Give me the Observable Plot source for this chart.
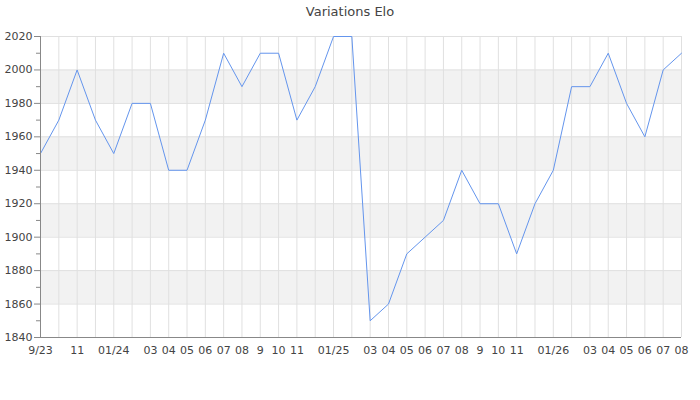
<!DOCTYPE html>
<html><head><meta charset="utf-8">
<script src="https://cdn.jsdelivr.net/npm/d3@7"></script>
<script src="https://cdn.jsdelivr.net/npm/@observablehq/plot@0.6"></script>
<style>
body{margin:0;background:#fff;font-family:"DejaVu Sans",sans-serif;}
#title{width:700px;height:24px;line-height:24px;text-align:center;font-size:13px;color:#444;}
</style></head><body>
<div id="title">Variations Elo</div>
<div id="chart"></div>
<script>
const months = ["2023-09","2023-10","2023-11","2023-12",
  "2024-01","2024-02","2024-03","2024-04","2024-05","2024-06","2024-07","2024-08","2024-09","2024-10","2024-11","2024-12",
  "2025-01","2025-02","2025-03","2025-04","2025-05","2025-06","2025-07","2025-08","2025-09","2025-10","2025-11","2025-12",
  "2026-01","2026-02","2026-03","2026-04","2026-05","2026-06","2026-07","2026-08"];
const monthLabels = ["9/23","","11","",
  "01/24","","03","04","05","06","07","08","9","10","11","",
  "01/25","","03","04","05","06","07","08","9","10","11","",
  "01/26","","03","04","05","06","07","08"];
const elo = [1950,1970,2000,1970,
  1950,1980,1980,1940,1940,1970,2010,1990,2010,2010,1970,1990,
  2020,2020,1850,1860,1890,1900,1910,1940,1920,1920,1890,1920,
  1940,1990,1990,2010,1980,1960,2000,2010];
const yTicks = [1840,1860,1880,1900,1920,1940,1960,1980,2000,2020];
const yMinorTicks = [1850,1870,1890,1910,1930,1950,1970,1990,2010];
const bandStarts = [1860,1900,1940,1980];
const bandSize = 20;

const idx = months.map((m, i) => i);
const last = months.length - 1;
const data = months.map((m, i) => ({i, month: m, elo: elo[i]}));
const bands = bandStarts.map(b => ({x1: 0, x2: last, y1: b, y2: b + bandSize}));

const chart = Plot.plot({
  width: 700,
  height: 376,
  marginTop: 12,
  marginBottom: 63,
  marginLeft: 40,
  marginRight: 19,
  style: {fontFamily: "DejaVu Sans", fontSize: "11px", color: "#444", background: "#fff"},
  x: {domain: [0, last]},
  y: {domain: [1840, 2020]},
  marks: [
    Plot.rect(bands, {x1: "x1", x2: "x2", y1: "y1", y2: "y2", fill: "#f2f2f2"}),
    Plot.gridX(idx, {stroke: "#e0e0e0", strokeOpacity: 1}),
    Plot.gridY(yTicks, {stroke: "#e0e0e0", strokeOpacity: 1}),
    Plot.line(data, {x: "i", y: "elo", stroke: "#6495ED", strokeWidth: 1}),
    Plot.ruleX([0], {stroke: "#888"}),
    Plot.ruleY([1840], {stroke: "#888"}),
    Plot.axisY(yTicks, {tickSize: 6, tickPadding: 2, tickFormat: d => String(d), stroke: "#888", fill: "#444", label: null}),
    Plot.axisY(yMinorTicks, {tickSize: 4, tickFormat: () => "", stroke: "#888", label: null}),
    Plot.axisX(idx, {tickSize: 0, tickPadding: 9, tickFormat: i => monthLabels[i], fill: "#444", label: null})
  ]
});
document.getElementById("chart").appendChild(chart);
</script>
</body></html>
